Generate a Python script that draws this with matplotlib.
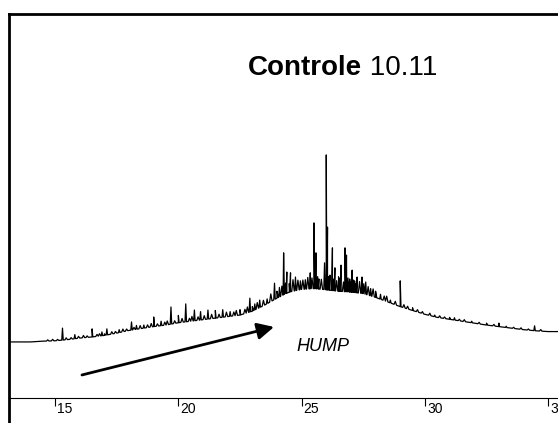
import numpy as np
import matplotlib.pyplot as plt
from matplotlib.transforms import ScaledTranslation

# baseline (hump) of the chromatogram: retention time, signal
base_t = [13.13, 14.0, 14.5, 15.0, 15.5, 16.0, 16.5, 17.0, 17.5, 18.0, 18.5, 19.0,
          19.5, 20.0, 20.5, 21.0, 21.5, 22.0, 22.5, 23.0, 23.5, 24.0, 24.5, 25.0,
          25.5, 26.0, 26.5, 27.0, 27.5, 28.0, 28.5, 29.0, 29.5, 30.0, 30.5, 31.0,
          31.5, 32.0, 32.5, 33.0, 33.5, 34.0, 34.5, 35.0, 35.4]
base_v = [14.6, 14.6, 14.8, 14.9, 15.2, 15.6, 15.9, 16.3, 16.9, 17.6, 18.1, 18.6,
          19.0, 19.6, 20.0, 20.4, 20.8, 21.2, 21.6, 22.6, 24.2, 26.0, 27.6, 28.3,
          28.5, 28.2, 27.8, 27.6, 27.2, 26.2, 25.0, 23.8, 22.8, 21.8, 21.0, 20.5,
          20.0, 19.5, 19.0, 18.6, 18.2, 17.8, 17.5, 17.3, 17.3]

# main peaks on top of the hump
peak_t = [15.3, 15.8, 16.5, 16.9, 17.1, 17.6, 18.1, 18.3, 18.6, 19.0, 19.3, 19.7,
          20.0, 20.3, 20.65, 20.9, 21.2, 21.5, 21.8, 22.1, 22.5, 22.9, 23.1, 23.3,
          23.6, 23.9, 24.1, 24.27, 24.4, 24.55, 24.75, 24.95, 25.15, 25.35, 25.5,
          25.58, 25.7, 25.93, 26.0, 26.05, 26.15, 26.25, 26.35, 26.5, 26.6, 26.76,
          26.82, 26.95, 27.05, 27.15, 27.25, 27.45, 27.6, 27.8, 28.2, 28.6, 29.0,
          29.5, 30.4, 31.2, 31.9, 33.0, 33.3, 34.45]
peak_v = [18.2, 16.5, 18.0, 17.2, 18.0, 17.8, 19.8, 18.9, 19.0, 21.1, 20.0, 23.7,
          21.5, 24.5, 22.9, 22.5, 22.9, 22.8, 23.0, 22.5, 23.0, 26.0, 24.5, 25.5,
          25.8, 29.9, 28.8, 37.8, 32.8, 32.6, 31.5, 30.5, 30.8, 32.6, 45.6,
          37.8, 31.0, 35.2, 63.3, 44.5, 32.0, 39.1, 33.9, 31.5, 34.6, 39.1,
          37.2, 31.0, 33.3, 30.5, 31.5, 31.5, 30.2, 28.5, 27.0, 25.5, 30.5,
          23.5, 21.6, 20.9, 20.0, 19.5, 18.7, 18.8]

# small bumps (noise) above the hump
minor_t = [14.7, 14.9, 15.1, 15.45, 15.65, 15.95, 16.15, 16.3, 16.7, 16.8,
           17.0, 17.3, 17.45, 17.75, 17.9, 18.2, 18.45, 18.75, 18.9, 19.15,
           19.45, 19.55, 19.85, 20.15, 20.45, 20.55, 20.8, 21.05, 21.35, 21.65,
           21.95, 22.25, 22.35, 22.7, 22.8, 23.0, 23.2, 23.45, 23.75, 24.0,
           24.2, 24.35, 24.5, 24.65, 24.85, 25.05, 25.25, 25.42, 25.65, 25.8,
           26.1, 26.3, 26.42, 26.55, 26.7, 26.88, 27.0, 27.1, 27.2, 27.35,
           27.52, 27.7, 27.9, 28.0, 28.35, 28.45, 28.8, 29.15, 29.3, 29.7,
           29.9, 30.2, 30.6, 30.8, 31.0, 31.4, 31.6, 32.2, 32.5, 32.8,
           33.6, 33.9, 34.2, 34.7]
minor_h = [0.3, 0.4, 0.3, 0.5, 0.4, 0.5, 0.6, 0.4, 0.5, 0.6,
           0.4, 0.6, 0.5, 0.7, 0.5, 0.6, 0.8, 0.7, 0.9, 0.6,
           0.8, 1.0, 0.7, 1.0, 0.8, 1.2, 0.9, 1.0, 1.1, 0.9,
           1.2, 1.0, 1.3, 1.1, 1.5, 1.2, 1.6, 1.4, 2.0, 1.8,
           2.5, 2.8, 2.2, 3.0, 2.6, 2.4, 3.0, 2.8, 3.2, 2.6,
           3.5, 3.0, 2.7, 3.4, 2.5, 3.6, 2.8, 3.2, 2.4, 3.0,
           2.6, 2.2, 2.0, 1.6, 1.2, 1.4, 0.9, 0.8, 0.7, 0.6,
           0.5, 0.6, 0.5, 0.4, 0.5, 0.4, 0.5, 0.4, 0.5, 0.4,
           0.3, 0.4, 0.3, 0.4]

xticks = [15, 20, 25, 30, 35]

# build the trace: baseline plus spikes
pt = np.array(peak_t)
mt = np.array(minor_t)
mv = np.interp(mt, base_t, base_v) + np.array(minor_h)
t = np.concatenate([base_t, pt - 0.03, pt, pt + 0.03, mt - 0.05, mt, mt + 0.05])
v = np.concatenate([base_v,
                    np.interp(pt - 0.03, base_t, base_v), peak_v,
                    np.interp(pt + 0.03, base_t, base_v),
                    np.interp(mt - 0.05, base_t, base_v), mv,
                    np.interp(mt + 0.05, base_t, base_v)])
order = np.argsort(t, kind='stable')
t, v = t[order], v[order]

plt.rcParams['font.family'] = ['Liberation Sans', 'DejaVu Sans']

fig = plt.figure(figsize=(5.58, 4.23), dpi=100)
ax = fig.add_axes([9 / 558, 0, 1 - 9 / 558, 409 / 423])

ax.plot(t, v, color='black', lw=0.9)

ax.set_xlim(13.13, 35.4)
ax.set_ylim(-6.51, 100)

# frame
ax.spines['right'].set_visible(False)
ax.spines['top'].set_linewidth(2)
ax.spines['left'].set_linewidth(2)
ax.spines['bottom'].set_position(('data', 0))
ax.spines['bottom'].set_linewidth(0.8)
ax.set_yticks([])
ax.set_xticks(xticks)
ax.set_xticklabels([str(x) for x in xticks],
                   family=['Liberation Sans Narrow', 'Liberation Sans'], fontsize=10)
ax.tick_params(axis='x', direction='out', length=5.5, width=0.8, pad=-2.5)
for lab in ax.get_xticklabels():
    lab.set_ha('left')
    lab.set_transform(lab.get_transform() + ScaledTranslation(1.5 / 72, 0, fig.dpi_scale_trans))

# title text
tt = ax.text(0.435, 0.851, 'Controle', transform=ax.transAxes, fontsize=20,
             fontweight='bold', ha='left', va='baseline')
ax.annotate(' 10.11', xy=(1, 0), xycoords=tt, fontsize=20, ha='left', va='bottom')

# hump arrow and label
ax.annotate('', xy=(23.88, 18.5), xytext=(16.09, 6.0),
            arrowprops=dict(arrowstyle='-|>,head_length=0.5,head_width=0.25',
                            lw=2, color='black', mutation_scale=20,
                            shrinkA=0, shrinkB=0))
ax.text(25.85, 13.3, 'HUMP', fontsize=13, style='italic', ha='center', va='center')

fig.savefig('out.png', dpi=100)
